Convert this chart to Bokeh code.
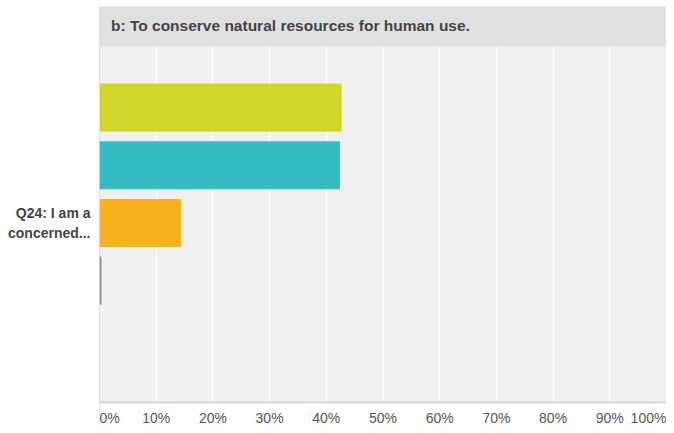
from bokeh.plotting import figure
from bokeh.models import Range1d, FixedTicker, BoxAnnotation, Span, Label, ColumnDataSource
from bokeh.embed import file_html
from bokeh.resources import INLINE

# ---- data ----
title_text = "b: To conserve natural resources for human use."
category_label = "Q24: I am a\nconcerned..."
answer_index = [0, 1, 2, 3, 4]
percent_values = [42.7, 42.4, 14.4, 0.35, 0.0]
bar_colors = ["#d1d628", "#35bec1", "#f8b21f", "#8f8f7f", "#6b7ab5"]
x_ticks = [0, 10, 20, 30, 40, 50, 60, 70, 80, 90, 100]
x_tick_labels = ["0%", "10%", "20%", "30%", "40%", "50%", "60%", "70%",
                 "80%", "90%", "100%"]

FONT = "Liberation Sans"

# ---- geometry (pixels) ----
W, H = 666, 425
frame_left, frame_top, plot_bottom = 99, 6, 402
pitch = 57.75          # px between bar centres
first_center = 107     # px of first bar centre
px_per_pct = (W - frame_left) / 100.0

def ypx(py):
    return (py - first_center) / pitch

y_top = ypx(frame_top)
y_canvas_bottom = ypx(H)
y_plot_bottom = ypx(plot_bottom)
band_bottom = ypx(46)

p = figure(width=W, height=H, output_backend="svg", toolbar_location=None,
           x_range=Range1d(x_ticks[0], x_ticks[-1]),
           y_range=Range1d(y_canvas_bottom, y_top),
           min_border_left=frame_left, min_border_right=0, min_border_top=frame_top,
           min_border_bottom=0)
p.background_fill_color = "#f0f0f0"
p.border_fill_color = "white"
p.outline_line_color = None

# left frame line (under everything)
p.add_layout(Span(location=0, dimension="height", line_color="#c8c8c8",
                  line_width=1, level="underlay"))

# white area below the plot (covers grid, under the axis)
p.add_layout(BoxAnnotation(top=y_plot_bottom, bottom=y_canvas_bottom,
                           fill_color="white", fill_alpha=1.0, line_color=None,
                           level="glyph"))

src = ColumnDataSource(dict(y=answer_index, right=percent_values, color=bar_colors))
p.hbar(y="y", left=0, right="right", height=48 / pitch, color="color",
       line_color=None, source=src)

# grid
p.xgrid.ticker = FixedTicker(ticks=x_ticks[1:-1])
p.xgrid.grid_line_color = "white"
p.xgrid.grid_line_width = 1.3
p.ygrid.grid_line_color = None

# x axis: edge labels are set inward (left-aligned 0%, right-aligned 100%)
lab0_pos = x_ticks[0] + 10 / px_per_pct
lab100_pos = x_ticks[-1] - 18 / px_per_pct
axis_ticks = [lab0_pos] + x_ticks[1:-1] + [lab100_pos]
overrides = {t: l for t, l in zip(x_ticks[1:-1], x_tick_labels[1:-1])}
overrides[lab0_pos] = x_tick_labels[0]
overrides[lab100_pos] = x_tick_labels[-1]

xa = p.xaxis[0]
xa.fixed_location = y_plot_bottom
xa.ticker = FixedTicker(ticks=axis_ticks)
xa.major_label_overrides = overrides
xa.axis_line_color = "#d8d8d8"
xa.axis_line_width = 2
xa.major_tick_line_color = None
xa.minor_tick_line_color = None
xa.major_label_text_font = FONT
xa.major_label_text_font_size = "14px"
xa.major_label_text_color = "#555555"
xa.major_label_standoff = 1

# y axis
ya = p.yaxis[0]
ya.ticker = FixedTicker(ticks=[answer_index[2]])
ya.major_label_overrides = {answer_index[2]: category_label}
ya.axis_line_color = None
ya.major_tick_line_color = None
ya.minor_tick_line_color = None
ya.major_label_text_font = FONT
ya.major_label_text_font_size = "14px"
ya.major_label_text_font_style = "bold"
ya.major_label_text_color = "#444444"
ya.major_label_text_line_height = 1.26
ya.major_label_standoff = 3

# title band
p.add_layout(BoxAnnotation(top=y_top, bottom=band_bottom, fill_color="#e0e0e0",
                           fill_alpha=1.0, line_color=None))
p.add_layout(Label(x=11.5 / px_per_pct, y=ypx(25), text=title_text,
                   text_font=FONT, text_font_size="15.5px",
                   text_font_style="bold", text_color="#444444",
                   text_align="left", text_baseline="middle"))

open("out.html", "w").write(file_html(p, INLINE))
